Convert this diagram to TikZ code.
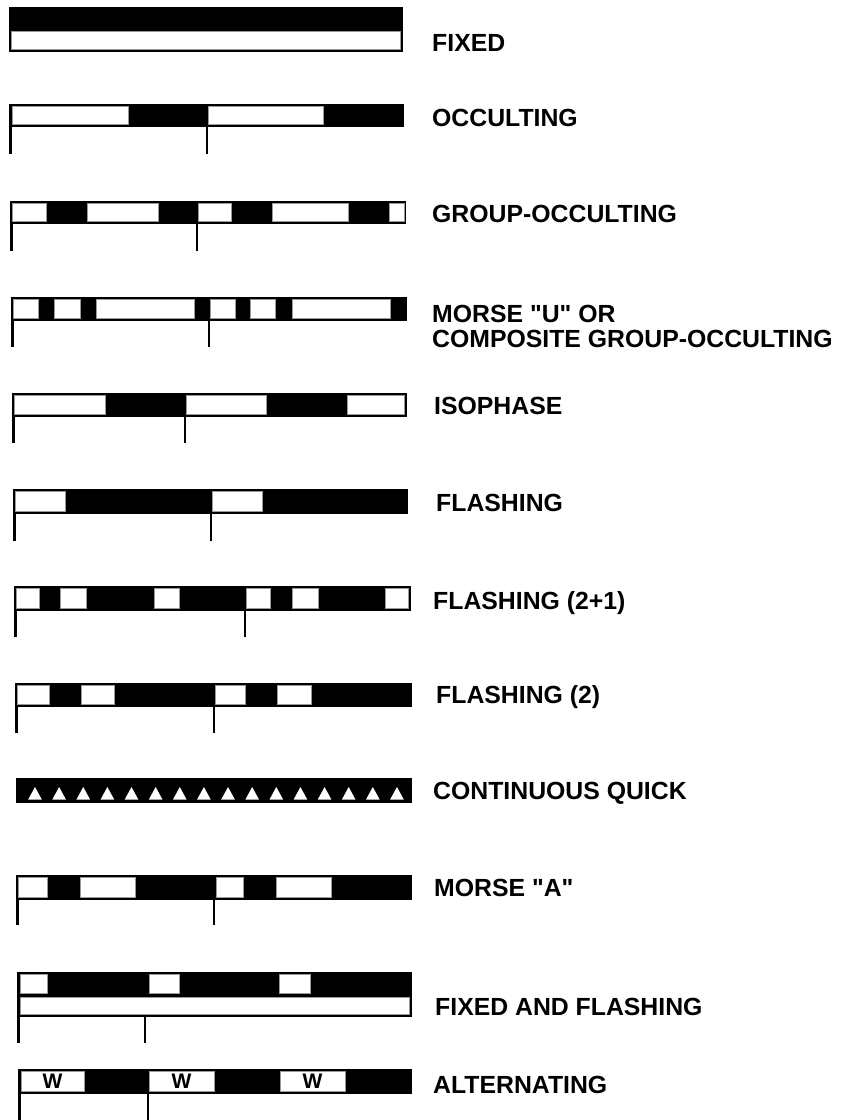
\documentclass[tikz,border=0pt]{standalone}
\usepackage{fontspec}
\setmainfont{Liberation Sans}[Ligatures=TeXOff]
\begin{document}
\begin{tikzpicture}[x=1pt,y=-1pt,
  lbl/.style={anchor=base west,inner sep=0pt,font=\fontsize{24.8}{29}\selectfont\bfseries,align=left},
  wl/.style={inner sep=0pt,font=\fontsize{21}{21}\selectfont\bfseries},
  tick/.style={line width=2.6pt},
  blk/.style={fill=black},
  wht/.style={fill=white,draw=black!40,line width=0.4pt}]
\useasboundingbox[fill=white] (0,0) rectangle (846,1120);
% bar macro: #1 top y, #2 bottom y, #3 x0, #4 x1, #5 list of white segments
\newcommand{\lightbar}[5]{%
  \fill[blk] (#3,#1) rectangle (#4,#2);
  \foreach \a/\b in {#5} {\path[wht] (\a,#1+2.4) rectangle (\b,#2-2.6);}
}
\newcommand{\ticks}[4]{% #1 top y, #2 bottom y, #3 x first, #4 x second
  \coordinate (t1) at (#3,#1); \coordinate (t2) at (#4,#1);
  \draw[tick] (t1) -- ++(0,#2-#1);
  \draw[tick] (t2) -- ++(0,#2-#1);
}
% FIXED
\fill[blk] (9,7) rectangle (403,52);
\path[wht] (11.5,31) rectangle (400.5,49.5);
\node[lbl] (fixed) at (432,51) {FIXED};
% OCCULTING
\lightbar{104}{127}{9}{404}{12/128,208/323}
\ticks{127}{154}{10.3}{207}
\node[lbl] (occ) at (432,126) {OCCULTING};
% GROUP-OCCULTING
\lightbar{201}{224}{10}{406}{12.5/46,87/158,198/231,272/348,389/404}
\ticks{224}{251}{11.3}{197}
\node[lbl] (gocc) at (432,222) {GROUP-OCCULTING};
% MORSE U
\lightbar{297}{321}{11}{407}{13.5/38,54/80,96/194,210/235,250/275,292/390}
\ticks{321}{347}{12.3}{209}
\node[lbl] (morseu) at (432,322) {MORSE "U" OR};
\node[lbl] (comp) at (432,347) {COMPOSITE GROUP-OCCULTING};
% ISOPHASE
\lightbar{393}{417}{12}{407}{14.5/105,186/266,347/404.5}
\ticks{417}{443}{13.3}{185}
\node[lbl] (iso) at (434,414) {ISOPHASE};
% FLASHING
\lightbar{489}{514}{13}{408}{15.5/65,212/262}
\ticks{514}{541}{14.3}{211}
\node[lbl] (fl) at (436,511) {FLASHING};
% FLASHING (2+1)
\lightbar{586}{611}{14}{411}{16.5/39,60/86,154/179,246/270,292/318,385/408.5}
\ticks{611}{637}{15.3}{245}
\node[lbl] (fl21) at (433,609) {FLASHING (2+1)};
% FLASHING (2)
\lightbar{683}{707}{15}{412}{17.5/49,81/114,215/245,277/311}
\ticks{707}{733}{16.3}{214}
\node[lbl] (fl2) at (436,703) {FLASHING (2)};
% CONTINUOUS QUICK
\fill[blk] (16,778) rectangle (412,803);
\foreach \i in {0,...,15} {
  \fill[white] (35+24.13*\i-6.8,799.5) -- (35+24.13*\i+6.8,799.5) -- (35+24.13*\i,787) -- cycle;
}
\node[lbl] (cq) at (433,799) {CONTINUOUS QUICK};
% MORSE A
\lightbar{875}{900}{16}{412}{18.5/47,80/135,216/243,276/331}
\ticks{900}{925}{17.3}{214}
\node[lbl] (morsea) at (434,896) {MORSE "A"};
% FIXED AND FLASHING
\fill[blk] (17,972) rectangle (412,1017);
\foreach \a/\b in {20/47,149/179,279/310} {\path[wht] (\a,974.4) rectangle (\b,993);}
\path[wht] (20,997) rectangle (409.5,1014.5);
\ticks{1017}{1043}{18.3}{145}
\node[lbl] (ff) at (435,1015) {FIXED AND FLASHING};
% ALTERNATING
\lightbar{1069}{1094}{18}{412}{21/84,149/214,280/345}
\node[wl] (w1) at (52.5,1081.5) {W};
\node[wl] (w2) at (181.5,1081.5) {W};
\node[wl] (w3) at (312.5,1081.5) {W};
\ticks{1094}{1120}{19.3}{148}
\node[lbl] (alt) at (433,1093) {ALTERNATING};
\end{tikzpicture}
\end{document}
